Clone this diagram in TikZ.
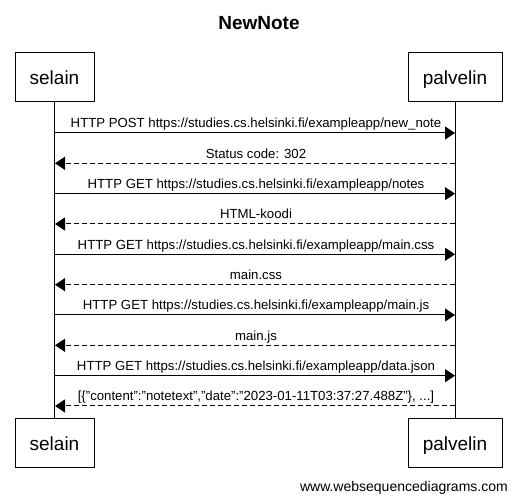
\documentclass[tikz,border=0pt]{standalone}
\usepackage{fontspec}
\setmainfont{Liberation Sans}
\usetikzlibrary{arrows.meta}
\newcommand\qq{\symbol{34}}
\begin{document}
\begin{tikzpicture}[x=1pt,y=-1pt,
  actor/.style={draw,line width=1pt,inner sep=0pt,minimum height=48.5pt,
    text height=14pt,text depth=0pt,font=\fontsize{19}{22}\selectfont},
  life/.style={line width=1pt},
  req/.style={line width=1pt,-{Triangle[length=10pt,width=13pt]}},
  resp/.style={req,dash pattern=on 5pt off 3pt},
  lbl/.style={anchor=base,inner sep=0pt,font=\fontsize{13.2}{15}\selectfont}]
\useasboundingbox[fill=white] (0,0) rectangle (517,502);
\node[font=\bfseries\fontsize{19}{22}\selectfont,anchor=base] (title) at (259,30) {NewNote};
\node[actor,minimum width=79pt] (s1) at (54.5,77.25) {selain};
\node[actor,minimum width=94pt] (p1) at (455,77.25) {palvelin};
\node[actor,minimum width=79pt] (s2) at (54.5,443.25) {selain};
\node[actor,minimum width=94pt] (p2) at (455,443.25) {palvelin};
\draw[life] (s1) -- (s2);
\draw[life] (p1) -- (p2);
\foreach \i/\y/\kind/\txt in {
  1/133/req/{HTTP POST https://studies.cs.helsinki.fi/exampleapp/new\_note},
  2/163.3/resp/{Status code: 302},
  3/193.7/req/{HTTP GET https://studies.cs.helsinki.fi/exampleapp/notes},
  4/224/resp/{HTML-koodi},
  5/254.3/req/{HTTP GET https://studies.cs.helsinki.fi/exampleapp/main.css},
  6/284.7/resp/{main.css},
  7/315/req/{HTTP GET https://studies.cs.helsinki.fi/exampleapp/main.js},
  8/345.3/resp/{main.js},
  9/375.7/req/{HTTP GET https://studies.cs.helsinki.fi/exampleapp/data.json},
  10/406/resp/{[\{\qq content\qq:\qq notetext\qq,\qq date\qq:\qq 2023-01-11T03:37:27.488Z\qq\}, ...]}}{
  \coordinate (a\i) at (55,\y);
  \coordinate (b\i) at (455,\y);
  \node[lbl] (m\i) at (256,\y-5) {\txt};
}
\foreach \i in {1,3,5,7,9}{\draw[req] (a\i) -- (b\i);}
\foreach \i in {2,4,6,8,10}{\draw[resp] (b\i) -- (a\i);}
\node[anchor=base east,inner sep=0pt,font=\fontsize{14}{16}\selectfont] (foot) at (508,492) {www.websequencediagrams.com};
\end{tikzpicture}
\end{document}
